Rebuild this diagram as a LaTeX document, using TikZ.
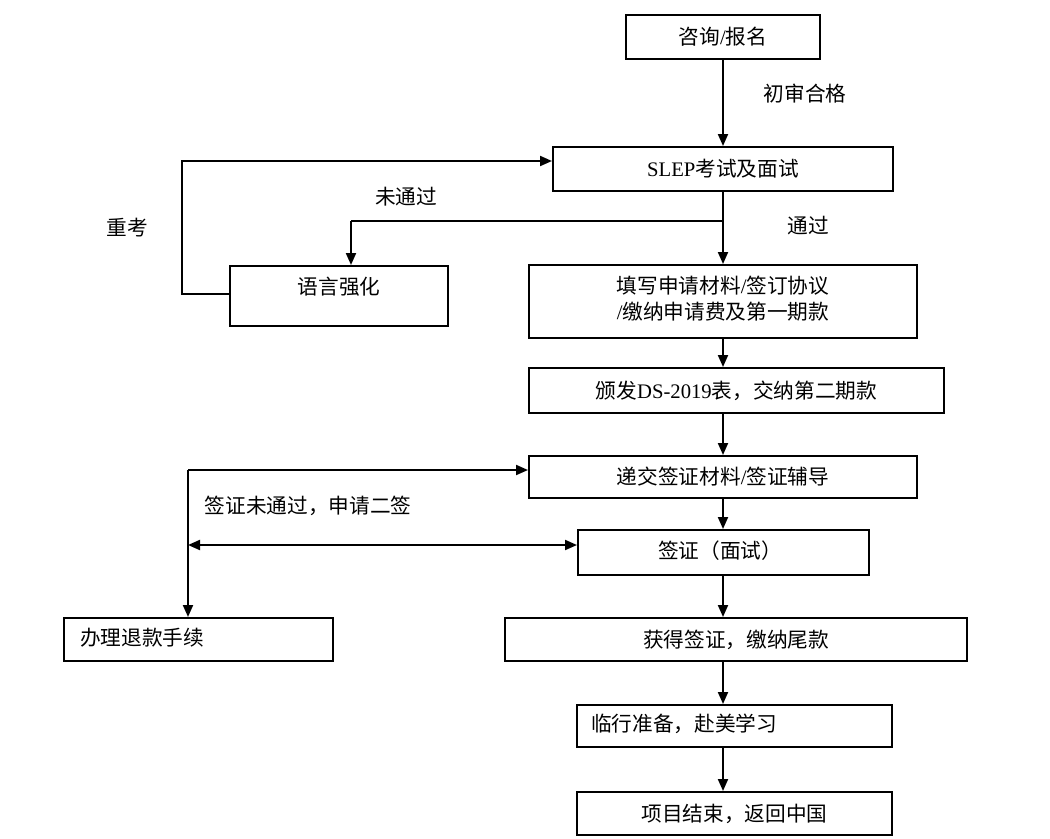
\documentclass[tikz,border=0pt]{standalone}
\usepackage{fontspec}
\setmainfont{Liberation Serif}
\newfontfamily\cjk{Noto Sans CJK SC}
\usetikzlibrary{arrows.meta}
\newcommand\lat[1]{{\rmfamily #1}}
\tikzset{
  box/.style={draw, line width=1.5pt, inner sep=0pt},
  txt/.style={font=\cjk\fontsize{15.5}{18.5}\selectfont, inner sep=0pt},
  arr/.style={line width=1.5pt, -{Triangle[length=9pt,width=7.5pt]}},
  darr/.style={line width=1.5pt, {Triangle[length=9pt,width=7.5pt]}-{Triangle[length=9pt,width=7.5pt]}},
  ln/.style={line width=1.5pt}
}
\begin{document}
\begin{tikzpicture}[x=0.75pt,y=-0.75pt]
\useasboundingbox (0,0) rectangle (1050,839);
% boxes
\node[box,txt,minimum width=145.5pt,minimum height=33pt] (b1) at (723,37) {咨询\lat{/}报名};
\node[box,txt,minimum width=255pt,minimum height=33pt] (b2) at (723,169) {\lat{SLEP}考试及面试};
\node[box,minimum width=163.5pt,minimum height=45pt] (b3) at (339,296) {};
\node[txt] (t3) at (339,287) {语言强化};
\node[box,minimum width=291pt,minimum height=54.75pt] (b4) at (723,301.5) {};
\node[txt,align=center] (t4) at (723,299) {填写申请材料\lat{/}签订协议\\[1pt]\lat{/}缴纳申请费及第一期款};
\node[box,txt,minimum width=311.25pt,minimum height=33.75pt] (b5) at (736.5,390.5) {颁发\lat{DS-2019}表，交纳第二期款};
\node[box,txt,minimum width=291pt,minimum height=31.5pt] (b6) at (723,477) {递交签证材料\lat{/}签证辅导};
\node[box,minimum width=218.25pt,minimum height=33.75pt] (b7) at (723.5,552.5) {};
\node[txt] (t7) at (720,551) {签证（面试）};
\node[box,minimum width=201.75pt,minimum height=32.25pt] (b8) at (198.5,639.5) {};
\node[txt,anchor=west] (t8) at (80,638) {办理退款手续};
\node[box,txt,minimum width=346.5pt,minimum height=32.25pt] (b9) at (736,639.5) {获得签证，缴纳尾款};
\node[box,minimum width=236.25pt,minimum height=31.5pt] (b10) at (734.5,726) {};
\node[txt,anchor=west] (t10) at (591,724) {临行准备，赴美学习};
\node[box,txt,minimum width=236.25pt,minimum height=32.25pt] (b11) at (734.5,813.5) {项目结束，返回中国};
% labels
\node[txt] (l1) at (805,94) {初审合格};
\node[txt] (l2) at (406,197) {未通过};
\node[txt] (l3) at (808,226) {通过};
\node[txt] (l4) at (127,228) {重考};
\node[txt] (l5) at (308,506) {签证未通过，申请二签};
% coordinates
\coordinate (sp) at (723,0);
\coordinate (br) at (723,221);
\coordinate (bl) at (351,221);
\coordinate (lp) at (182,294);
\coordinate (j) at (188,470);
\coordinate (dj) at (188,545);
% spine
\draw[arr] (b1.south -| sp) -- (b2.north -| sp);
\draw[arr] (b2.south -| sp) -- (b4.north -| sp);
\draw[ln] (br) -- (bl);
\draw[arr] (bl) -- (b3.north -| bl);
\draw[arr] (b3.west |- lp) -- (lp) -- (lp |- 0,161) -- (b2.west |- 0,161);
\draw[arr] (b4.south -| sp) -- (b5.north -| sp);
\draw[arr] (b5.south -| sp) -- (b6.north -| sp);
\draw[arr] (b6.south -| sp) -- (b7.north -| sp);
\draw[arr] (b7.south -| sp) -- (b9.north -| sp);
\draw[arr] (b9.south -| sp) -- (b10.north -| sp);
\draw[arr] (b10.south -| sp) -- (b11.north -| sp);
% second visa
\draw[arr] (j) -- (b6.west |- j);
\draw[arr] (j) -- (b8.north -| j);
\draw[darr] (dj) -- (b7.west |- dj);
\end{tikzpicture}
\end{document}
